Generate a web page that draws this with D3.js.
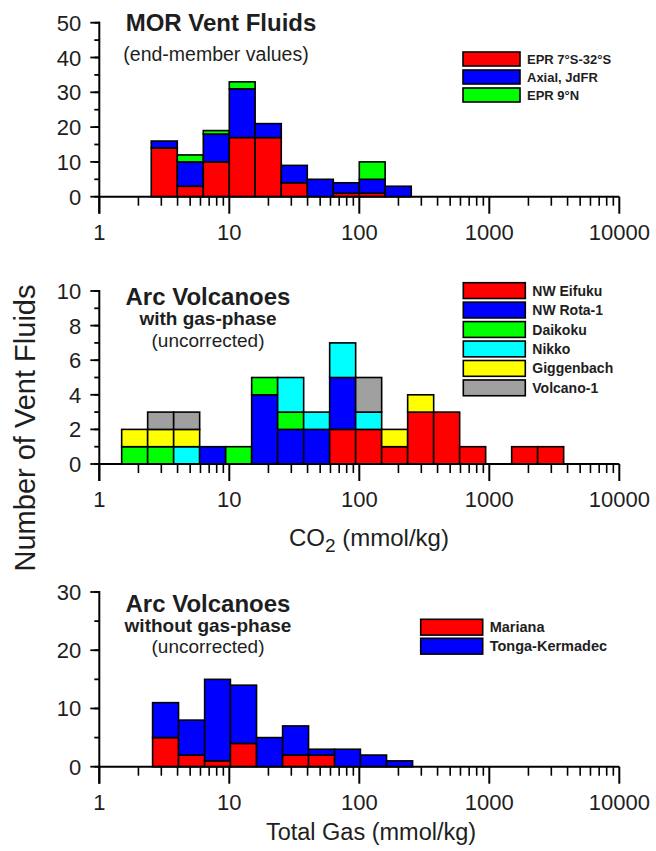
<!DOCTYPE html>
<html><head><meta charset="utf-8">
<script src="https://cdn.jsdelivr.net/npm/d3@7"></script>
<style>
body{margin:0;background:#fff;}
svg{display:block;font-family:"Liberation Sans",Arial,Helvetica,sans-serif;}
</style></head>
<body><svg id="c" width="656" height="851"></svg>
<script>
// ---------- DATA ----------
// Panel 1: MOR vent fluids, CO2 end-member values (bins of 0.2 log units)
const morBinEdges = [2.51, 3.98, 6.31, 10, 15.8, 25.1, 39.8, 63.1, 100, 158, 251];
const morSeries = ["EPR 7°S-32°S", "Axial, JdFR", "EPR 9°N"];
const morEPRS  = [14, 3, 10, 17, 17, 4, 0, 1, 1, 0];
const morAxial = [2, 7, 8, 14, 4, 5, 5, 3, 4, 3];
const morEPRN  = [0, 2, 1, 2, 0, 0, 0, 0, 5, 0];
const morTicks = [0, 10, 20, 30, 40, 50];

// Panel 2: Arc volcanoes with gas-phase
const arcGasBinEdges = [1.486, 2.355, 3.733, 5.916, 9.376, 14.86, 23.55, 37.33, 59.16, 93.76, 148.6, 235.5, 373.3, 591.6, 937.6, 1486, 2355, 3733];
const arcGasSeries = ["NW Eifuku", "NW Rota-1", "Daikoku", "Nikko", "Giggenbach", "Volcano-1"];
const nwEifuku   = [0,0,0,0,0,0,0,0,2,2,1,3,3,1,0,1,1];
const nwRota     = [0,0,0,1,0,4,2,2,3,0,0,0,0,0,0,0,0];
const daikoku    = [1,1,0,0,1,1,1,0,0,0,0,0,0,0,0,0,0];
const nikko      = [0,0,1,0,0,0,2,1,2,1,0,0,0,0,0,0,0];
const giggenbach = [1,1,1,0,0,0,0,0,0,0,1,1,0,0,0,0,0];
const volcano1   = [0,1,1,0,0,0,0,0,0,2,0,0,0,0,0,0,0];
const arcGasTicks = [0, 2, 4, 6, 8, 10];

// Panel 3: Arc volcanoes without gas-phase (total gas)
const arcNoGasBinEdges = [2.57, 4.07, 6.46, 10.2, 16.2, 25.7, 40.7, 64.6, 102, 162, 257];
const arcNoGasSeries = ["Mariana", "Tonga-Kermadec"];
const mariana = [5, 2, 1, 4, 0, 2, 2, 0, 0, 0];
const tonga   = [6, 6, 14, 10, 5, 5, 1, 3, 2, 1];
const arcNoGasTicks = [0, 10, 20, 30];

const xTickLabels = ["1", "10", "100", "1000", "10000"];

// ---------- STYLE ----------
const colRed = "#ff0000", colBlue = "#0000ff", colGreen = "#00ff00",
      colCyan = "#00ffff", colYellow = "#ffff00", colGray = "#a0a0a0";
const textCol = "#1e1e1e";

const svg = d3.select("#c");
const x = d3.scaleLog().domain([1, 10000]).range([99.3, 619.3]);

function panel(opts) {
  const y = d3.scaleLinear().domain([0, opts.ymax]).range([opts.y0, opts.y1]);
  const g = svg.append("g");
  // bars
  const nb = opts.edges.length - 1;
  for (let i = 0; i < nb; i++) {
    let base = 0;
    opts.series.forEach((s, k) => {
      const v = s[i];
      if (v > 0) {
        g.append("rect")
          .attr("x", x(opts.edges[i]))
          .attr("width", x(opts.edges[i + 1]) - x(opts.edges[i]))
          .attr("y", y(base + v))
          .attr("height", y(base) - y(base + v))
          .attr("fill", opts.colors[k])
          .attr("stroke", "#000").attr("stroke-width", 1.6);
      }
      base += v;
    });
  }
  // y axis
  const minor = d3.range(0, opts.ymax + 0.001, opts.minorStep);
  g.selectAll(".ymin").data(minor).join("line")
    .attr("x1", x(1) - 5).attr("x2", x(1))
    .attr("y1", d => y(d)).attr("y2", d => y(d))
    .attr("stroke", "#000").attr("stroke-width", 1.8);
  g.selectAll(".ymaj").data(opts.ticks).join("line")
    .attr("x1", x(1) - 9).attr("x2", x(1))
    .attr("y1", d => y(d)).attr("y2", d => y(d))
    .attr("stroke", "#000").attr("stroke-width", 1.8);
  g.selectAll(".ylab").data(opts.ticks).join("text")
    .attr("x", x(1) - 18).attr("y", d => y(d) + 8)
    .attr("text-anchor", "end").attr("font-size", 22).attr("fill", textCol)
    .text(d => d);
  g.append("line").attr("x1", x(1)).attr("x2", x(1))
    .attr("y1", y(opts.ymax) - 1).attr("y2", y(0) + 17)
    .attr("stroke", "#000").attr("stroke-width", 2);
  // x axis
  g.append("line").attr("x1", x(1)).attr("x2", x(10000))
    .attr("y1", y(0)).attr("y2", y(0)).attr("stroke", "#000").attr("stroke-width", 2);
  const minorX = [];
  for (let p = 1; p < 10000; p *= 10) for (let m = 2; m <= 9; m++) minorX.push(p * m);
  g.selectAll(".xmin").data(minorX).join("line")
    .attr("x1", d => x(d)).attr("x2", d => x(d))
    .attr("y1", y(0)).attr("y2", y(0) + 9)
    .attr("stroke", "#000").attr("stroke-width", 1.6);
  const majX = xTickLabels.map(Number);
  g.selectAll(".xmaj").data(majX).join("line")
    .attr("x1", d => x(d)).attr("x2", d => x(d))
    .attr("y1", y(0)).attr("y2", y(0) + 17)
    .attr("stroke", "#000").attr("stroke-width", 2);
  g.selectAll(".xlab").data(xTickLabels).join("text")
    .attr("x", d => x(+d)).attr("y", y(0) + 43)
    .attr("text-anchor", "middle").attr("font-size", 22).attr("fill", textCol)
    .text(d => d);
  // legend
  const L = opts.legend;
  opts.names.forEach((n, k) => {
    g.append("rect").attr("x", L.x).attr("y", L.y + k * L.step)
      .attr("width", L.w).attr("height", L.h)
      .attr("fill", opts.colors[k]).attr("stroke", "#000").attr("stroke-width", 1.6);
    g.append("text").attr("x", L.x + L.w + 7).attr("y", L.y + k * L.step + L.h / 2 + L.fs * 0.36)
      .attr("font-size", L.fs).attr("font-weight", "bold").attr("fill", textCol)
      .text(n);
  });
  // titles
  opts.titles.forEach(t => {
    g.append("text").attr("x", t.x).attr("y", t.y).attr("text-anchor", "middle")
      .attr("font-size", t.fs).attr("font-weight", t.bold ? "bold" : "normal")
      .attr("fill", textCol).text(t.text);
  });
  return g;
}

panel({
  edges: morBinEdges, series: [morEPRS, morAxial, morEPRN], names: morSeries,
  colors: [colRed, colBlue, colGreen], ymax: 50, ticks: morTicks, minorStep: 5,
  y0: 196.7, y1: 22.7,
  legend: {x: 463, y: 52, w: 57, h: 14, step: 18, fs: 13},
  titles: [
    {text: "MOR Vent Fluids", x: 221, y: 31, fs: 24, bold: true},
    {text: "(end-member values)", x: 216, y: 61, fs: 19.5}
  ]
});

panel({
  edges: arcGasBinEdges, series: [nwEifuku, nwRota, daikoku, nikko, giggenbach, volcano1], names: arcGasSeries,
  colors: [colRed, colBlue, colGreen, colCyan, colYellow, colGray], ymax: 10, ticks: arcGasTicks, minorStep: 1,
  y0: 464, y1: 291,
  legend: {x: 463.3, y: 282.7, w: 62, h: 15.8, step: 19.45, fs: 14},
  titles: [
    {text: "Arc Volcanoes", x: 208, y: 305, fs: 24, bold: true},
    {text: "with gas-phase", x: 208, y: 325, fs: 19, bold: true},
    {text: "(uncorrected)", x: 208, y: 346.5, fs: 19}
  ]
});

panel({
  edges: arcNoGasBinEdges, series: [mariana, tonga], names: arcNoGasSeries,
  colors: [colRed, colBlue], ymax: 30, ticks: arcNoGasTicks, minorStep: 5,
  y0: 766.7, y1: 592,
  legend: {x: 420.7, y: 619.3, w: 62, h: 15.8, step: 19, fs: 14.5},
  titles: [
    {text: "Arc Volcanoes", x: 208, y: 611.5, fs: 24, bold: true},
    {text: "without gas-phase", x: 208, y: 632, fs: 19, bold: true},
    {text: "(uncorrected)", x: 208, y: 653, fs: 19}
  ]
});

// axis titles
const co2 = svg.append("text").attr("x", 369).attr("y", 546).attr("text-anchor", "middle")
  .attr("font-size", 24).attr("fill", textCol);
co2.append("tspan").text("CO");
co2.append("tspan").attr("dy", 6).attr("font-size", 19).text("2");
co2.append("tspan").attr("dy", -6).text(" (mmol/kg)");

svg.append("text").attr("x", 371).attr("y", 840).attr("text-anchor", "middle")
  .attr("font-size", 23.5).attr("fill", textCol).text("Total Gas (mmol/kg)");

svg.append("text").attr("transform", "translate(35,428) rotate(-90)")
  .attr("text-anchor", "middle").attr("font-size", 29).attr("fill", textCol)
  .text("Number of Vent Fluids");
</script></body></html>
